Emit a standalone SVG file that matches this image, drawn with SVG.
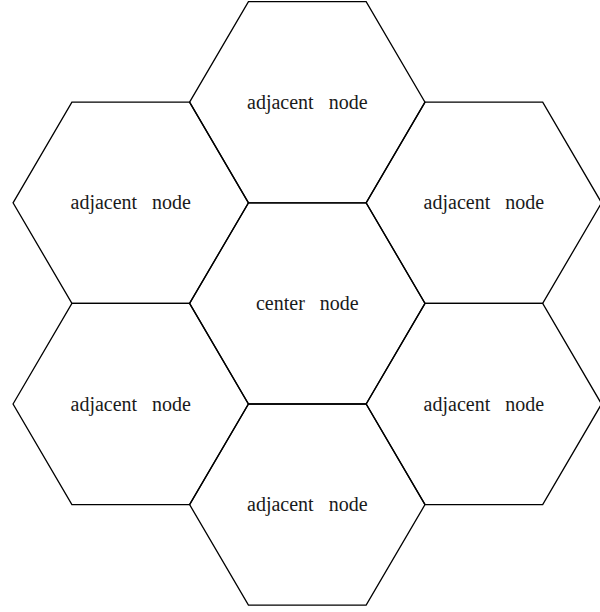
<svg xmlns="http://www.w3.org/2000/svg" width="600" height="612" viewBox="0 0 600 612">
  <style>
    .hex { fill: none; stroke: #000; stroke-width: 1.3; stroke-linejoin: miter; }
    .lbl { font-family: "Liberation Serif", "Times New Roman", Times, serif; font-size: 20px; fill: #1a1a1a; text-anchor: middle; }
  </style>
  <defs>
    <polygon id="hexshape" points="-117.7,0 -58.85,-100.6 58.85,-100.6 117.7,0 58.85,100.6 -58.85,100.6"/>
  </defs>
  <rect width="600" height="612" fill="#fff"/>
  <g id="node-top" transform="translate(307.3,102.2)">
    <use href="#hexshape" class="hex"/>
    <text class="lbl" x="0" y="6.5" xml:space="preserve">adjacent   node</text>
  </g>
  <g id="node-upper-left" transform="translate(130.75,202.8)">
    <use href="#hexshape" class="hex"/>
    <text class="lbl" x="0" y="6.5" xml:space="preserve">adjacent   node</text>
  </g>
  <g id="node-upper-right" transform="translate(483.85,202.8)">
    <use href="#hexshape" class="hex"/>
    <text class="lbl" x="0" y="6.5" xml:space="preserve">adjacent   node</text>
  </g>
  <g id="node-center" transform="translate(307.3,303.4)">
    <use href="#hexshape" class="hex"/>
    <text class="lbl" x="0" y="6.5" xml:space="preserve">center   node</text>
  </g>
  <g id="node-lower-left" transform="translate(130.75,404)">
    <use href="#hexshape" class="hex"/>
    <text class="lbl" x="0" y="6.5" xml:space="preserve">adjacent   node</text>
  </g>
  <g id="node-lower-right" transform="translate(483.85,404)">
    <use href="#hexshape" class="hex"/>
    <text class="lbl" x="0" y="6.5" xml:space="preserve">adjacent   node</text>
  </g>
  <g id="node-bottom" transform="translate(307.3,504.6)">
    <use href="#hexshape" class="hex"/>
    <text class="lbl" x="0" y="6.5" xml:space="preserve">adjacent   node</text>
  </g>
</svg>
